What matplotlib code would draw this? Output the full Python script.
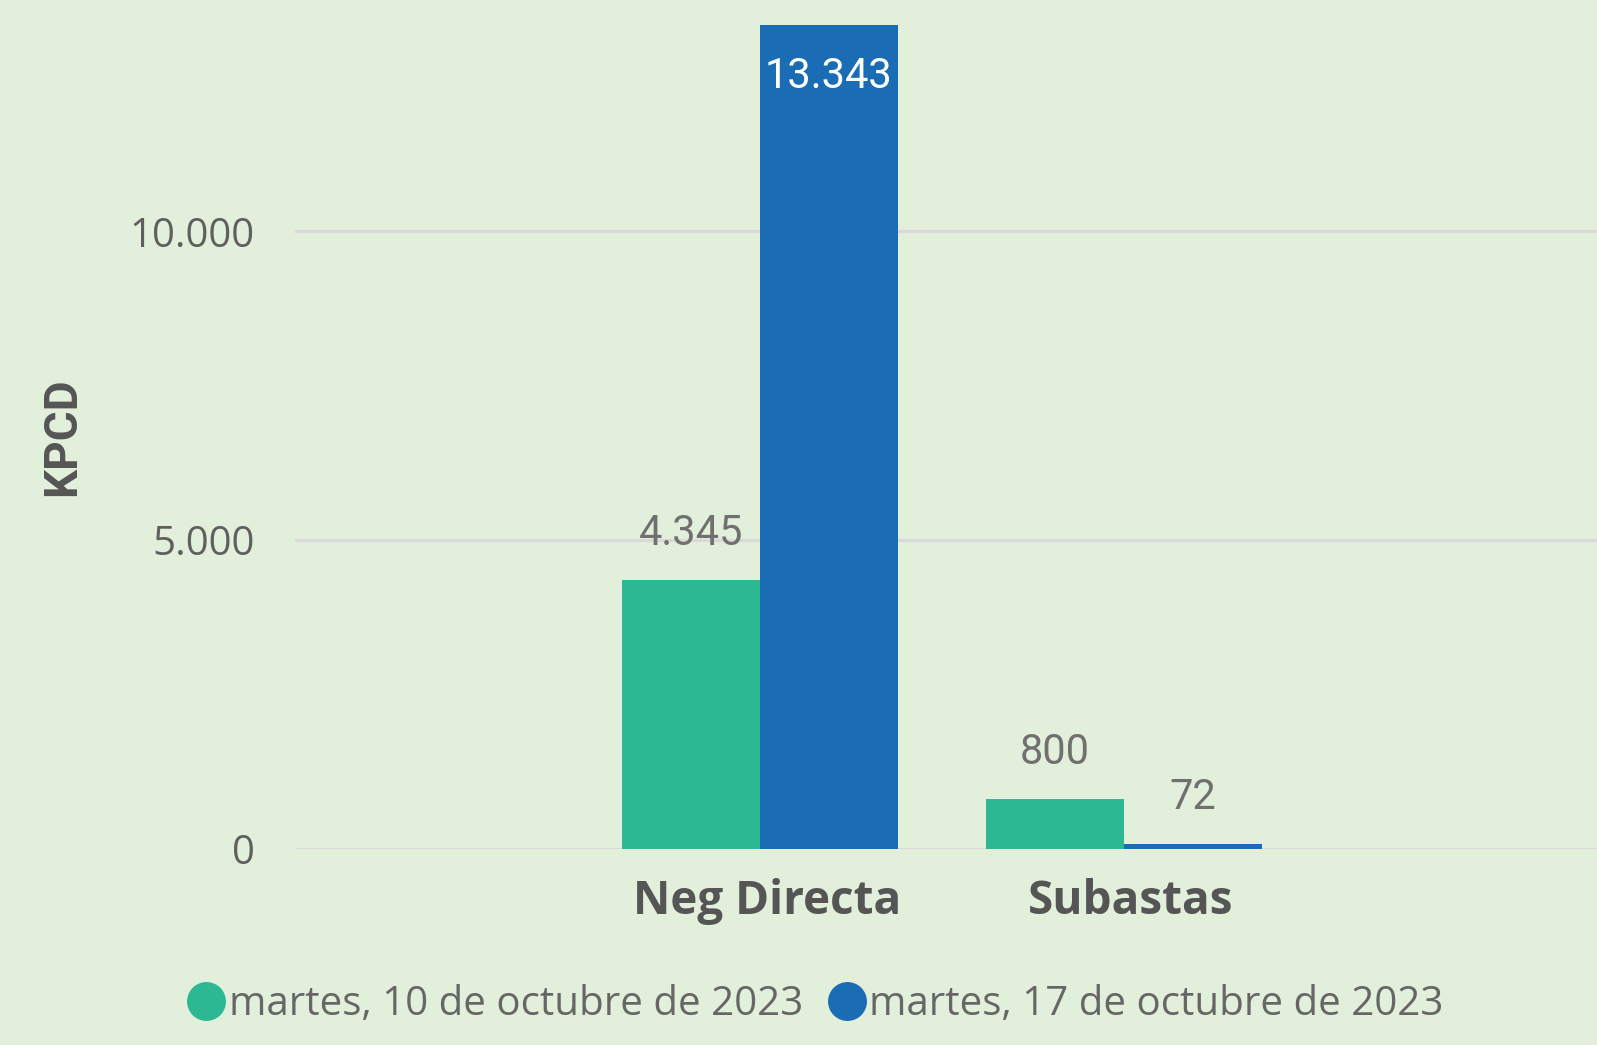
import matplotlib
matplotlib.use("Agg")
import matplotlib.pyplot as plt
import matplotlib.transforms as mtrans
from matplotlib.lines import Line2D
import numpy as np

# datos
categorias = ["Neg Directa", "Subastas"]
series = ["martes, 10 de octubre de 2023", "martes, 17 de octubre de 2023"]
valores_10oct = [4345, 800]
valores_17oct = [13343, 72]
colores = ["#2bb893", "#1a6cb4"]
ticks_y = [0, 5000, 10000]
ticks_y_txt = ["0", "5.000", "10.000"]

fondo = "#e2efda"
fig = plt.figure(figsize=(15.97, 10.45), dpi=100, facecolor=fondo)
ax = fig.add_axes([295 / 1597, 196.5 / 1045, 1302 / 1597, 848.5 / 1045])
ax.set_facecolor(fondo)

x = np.arange(len(categorias))
w = 0.379
b1 = ax.bar(x - w / 2, valores_10oct, w, color=colores[0], zorder=3)
b2 = ax.bar(x + w / 2, valores_17oct, w, color=colores[1], zorder=3)

ax.set_xlim(-1.278, 2.301)
ax.set_ylim(0, 13752)

def fmt(v):
    return f"{v:,}".replace(",", ".")

# etiquetas de datos (fuente tipo DIN -> Roboto)
etiq_fam = ["Roboto", "DejaVu Sans"]
for rect, v in zip(b1, valores_10oct):
    ax.annotate(fmt(v), (rect.get_x() + rect.get_width() / 2, v),
                xytext=(0, 19), textcoords="offset points", ha="center", va="bottom",
                fontsize=30, color="#707070", family=etiq_fam)
for rect, v in zip(b2, valores_17oct):
    if v > 10000:
        ax.annotate(fmt(v), (rect.get_x() + rect.get_width() / 2, v),
                    xytext=(0, -22), textcoords="offset points", ha="center", va="top",
                    fontsize=30, color="white", family=etiq_fam)
    else:
        ax.annotate(fmt(v), (rect.get_x() + rect.get_width() / 2, v),
                    xytext=(0, 19), textcoords="offset points", ha="center", va="bottom",
                    fontsize=30, color="#707070", family=etiq_fam)

ax.set_yticks(ticks_y)
ax.set_yticklabels(ticks_y_txt, fontsize=29, color="#5f5f5f", family="Open Sans")
ax.set_xticks(x)
ax.set_xticklabels(categorias, fontsize=33, color="#555555", family="Open Sans",
                   fontweight="bold")
ax.tick_params(axis="y", length=0, pad=29)
ax.tick_params(axis="x", length=0, pad=21)
desplaza = mtrans.ScaledTranslation(7 / 100, 0, fig.dpi_scale_trans)
for t in ax.get_xticklabels():
    t.set_transform(t.get_transform() + desplaza)
ax.grid(axis="y", color="#d9d9d9", linewidth=2.3, zorder=0)
for s in ax.spines.values():
    s.set_visible(False)

fig.text(62 / 1597, 1 - 437 / 1045, "KPCD", rotation=90, ha="center", va="center",
         fontsize=33, fontweight="bold", color="#555555", family=etiq_fam)

handles = [Line2D([], [], marker="o", linestyle="", markersize=27,
                  markerfacecolor=c, markeredgecolor=c) for c in colores]
fig.legend(handles, series, loc="center", bbox_to_anchor=(815 / 1597, 1 - 1005 / 1045),
           ncol=2, frameon=False, handletextpad=0.05, columnspacing=0.6,
           handlelength=1.0, prop={"family": "Open Sans", "size": 29},
           labelcolor="#666666")

fig.savefig("out.png", dpi=100, facecolor=fondo)
